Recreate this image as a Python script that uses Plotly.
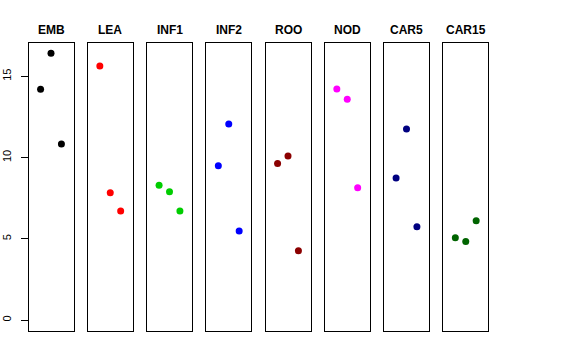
import plotly.graph_objects as go

groups = ["EMB", "LEA", "INF1", "INF2", "ROO", "NOD", "CAR5", "CAR15"]
colors = ["#000000", "#FF0000", "#00CD00", "#0000FF", "#8B0000", "#FF00FF", "#000080", "#006400"]
x_pos = [1, 2, 3]
values = [
    [14.2, 16.41, 10.84],
    [15.64, 7.83, 6.72],
    [8.30, 7.89, 6.72],
    [9.49, 12.07, 5.49],
    [9.63, 10.10, 4.27],
    [14.22, 13.58, 8.14],
    [8.75, 11.76, 5.74],
    [5.06, 4.84, 6.11],
]
y_ticks = [0, 5, 10, 15]

W, H = 576, 360
fig = go.Figure()
left0, step, pw = 28.5, 59.25, 45.0
top, bottom = 42.7, 330.8
ydom = [1 - bottom / H, 1 - top / H]
ymax = 16.41
yr = [-0.04 * ymax, ymax * 1.04]

for i, (g, c, v) in enumerate(zip(groups, colors, values)):
    n = i + 1
    xa = "x" if n == 1 else f"x{n}"
    ya = "y" if n == 1 else f"y{n}"
    fig.add_trace(go.Scatter(x=x_pos, y=v, mode="markers", xaxis=xa, yaxis=ya,
                             marker=dict(color=c, size=7), showlegend=False, hoverinfo="skip"))
    x0 = left0 + i * step
    dom = [x0 / W, (x0 + pw) / W]
    fig.layout[f"xaxis{'' if n == 1 else n}"] = dict(
        domain=dom, range=[-0.16, 4.16], showticklabels=False, ticks="",
        showgrid=False, zeroline=False, showline=True, linecolor="black", linewidth=1, mirror=True,
        anchor=ya, fixedrange=True, automargin=False)
    yd = dict(domain=ydom, range=yr, showgrid=False, zeroline=False, showline=True,
              linecolor="black", linewidth=1, mirror=True, anchor=xa, fixedrange=True,
              automargin=False)
    if n == 1:
        yd.update(tickmode="array", tickvals=y_ticks, ticktext=[str(t) for t in y_ticks],
                  ticks="outside", ticklen=7, tickcolor="black", tickangle=-90,
                  ticklabelstandoff=5,
                  tickfont=dict(family="Liberation Sans, Arial", size=11, color="black"))
    else:
        yd.update(showticklabels=False, ticks="")
    fig.layout[f"yaxis{'' if n == 1 else n}"] = yd
    fig.add_annotation(text=f"<b>{g}</b>", x=(x0 + pw / 2) / W, y=1 - 30 / H,
                       xref="paper", yref="paper", showarrow=False, xanchor="center", yanchor="middle",
                       font=dict(family="Liberation Sans, Arial", size=12, color="black"))

fig.update_layout(width=W, height=H, margin=dict(l=0, r=0, t=0, b=0),
                  paper_bgcolor="white", plot_bgcolor="white")
fig.write_html("out.html", config={"displayModeBar": False},
               post_script="document.body.style.margin='0';")
